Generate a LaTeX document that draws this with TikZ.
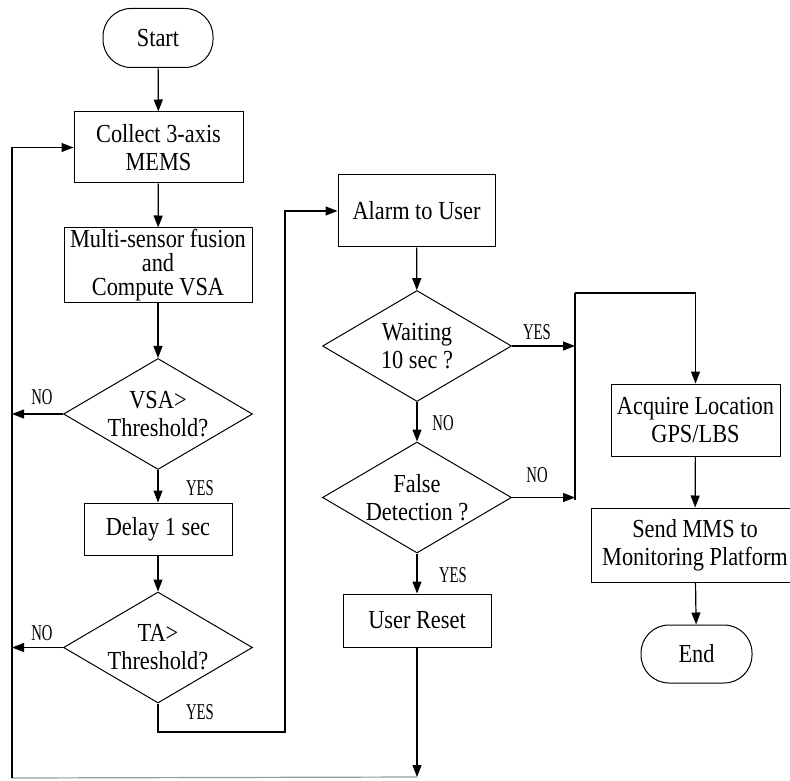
\documentclass[tikz,border=0pt]{standalone}
\usepackage{fontspec}
\setmainfont[FakeStretch=0.86]{Liberation Serif}
\newfontfamily\ynfont[FakeStretch=0.65]{Liberation Serif}
\usetikzlibrary{shapes.geometric,arrows.meta}

\begin{document}
\begin{tikzpicture}[
    x=0.5pt, y=-0.5pt,
    every node/.style={align=center, font=\fontsize{13}{14}\selectfont, line width=0.5pt},
    proc/.style={draw, rectangle, inner sep=0pt},
    term/.style={draw, rectangle, rounded corners=14pt, minimum width=55pt, minimum height=29.5pt},
    dec/.style={draw, diamond, aspect=1.7, inner sep=0pt, minimum width=94.5pt, minimum height=55.5pt},
    yn/.style={font=\ynfont\fontsize{11.3}{12}\selectfont, inner sep=0pt},
    arr/.style={-{Triangle[length=6pt,width=4.5pt]}, line width=0.6pt},
    ln/.style={line width=0.6pt}
]
    \useasboundingbox (0,0) rectangle (790,780);

    % Left column: sensing and detection
    \node[term] (start) at (158,38) {Start};
    \node[proc, minimum width=84.5pt, minimum height=35.5pt] (collect) at (158.5,147.5) {Collect 3-axis\\MEMS};
    \node[proc, minimum width=94pt, minimum height=37pt, font=\fontsize{13}{12}\selectfont] (fusion) at (158,265) {Multi-sensor fusion\\and\\Compute VSA};
    \node[dec] (vsa) at (158,414) {VSA>\\Threshold?};
    \node[proc, minimum width=74pt, minimum height=26pt] (delay) at (158,529) {Delay 1 sec};
    \node[dec] (ta) at (158,647.5) {TA>\\Threshold?};

    % Middle column: alarm handling
    \node[proc, minimum width=78.5pt, minimum height=36pt] (alarm) at (416.5,211) {Alarm to User};
    \node[dec] (wait) at (417,346) {Waiting\\10 sec ?};
    \node[dec] (false) at (417,497.5) {False\\Detection ?};
    \node[proc, minimum width=74pt, minimum height=26.5pt] (reset) at (417,620.5) {User Reset};

    % Right column: reporting
    \node[proc, minimum width=84.5pt, minimum height=36pt] (acquire) at (695.5,420) {Acquire Location\\GPS/LBS};
    \node[proc, minimum width=104pt, minimum height=37pt] (send) at (695,545) {Send MMS to\\Monitoring Platform};
    \node[term, minimum width=55.5pt, minimum height=29pt] (end) at (696.5,654) {End};

    % Corner points of the routed lines
    \coordinate (tacorner) at (285,732);
    \coordinate (bustop) at (575,293);
    \coordinate (busbot) at (575,500);
    \coordinate (resetend) at (417,777);
    \coordinate (loopbl) at (12,778);

    % Straight flow
    \foreach \a/\b in {start/collect, collect/fusion, fusion/vsa, vsa/delay, delay/ta,
                       alarm/wait, wait/false, false/reset, acquire/send, send/end} {
        \draw[arr] (\a) -- (\b);
    }

    % Branches
    \draw[arr] (vsa.west) -- (vsa.west -| loopbl);
    \draw[arr] (ta.west) -- (ta.west -| loopbl);
    \draw[arr] (ta.south) |- (tacorner) |- (alarm.west);
    \draw[arr] (wait.east) -- (wait.east -| bustop);
    \draw[arr] (false.east) -- (false.east -| bustop);
    \draw[ln] (busbot) -- (bustop);
    \draw[arr] (bustop) -| (acquire.north);
    \draw[arr] (reset) -- (resetend);
    \draw[ln, black!40] (resetend) -- (loopbl);
    \draw[arr] (loopbl) |- (collect.west);

    % Branch labels
    \node[yn] (no1) at (42,397) {NO};
    \node[yn] (yes1) at (200,488) {YES};
    \node[yn] (no2) at (42,633) {NO};
    \node[yn] (yes2) at (200,712) {YES};
    \node[yn] (yes3) at (537,332) {YES};
    \node[yn] (no3) at (443,423) {NO};
    \node[yn] (no4) at (537,475) {NO};
    \node[yn] (yes4) at (453,575) {YES};
\end{tikzpicture}
\end{document}
